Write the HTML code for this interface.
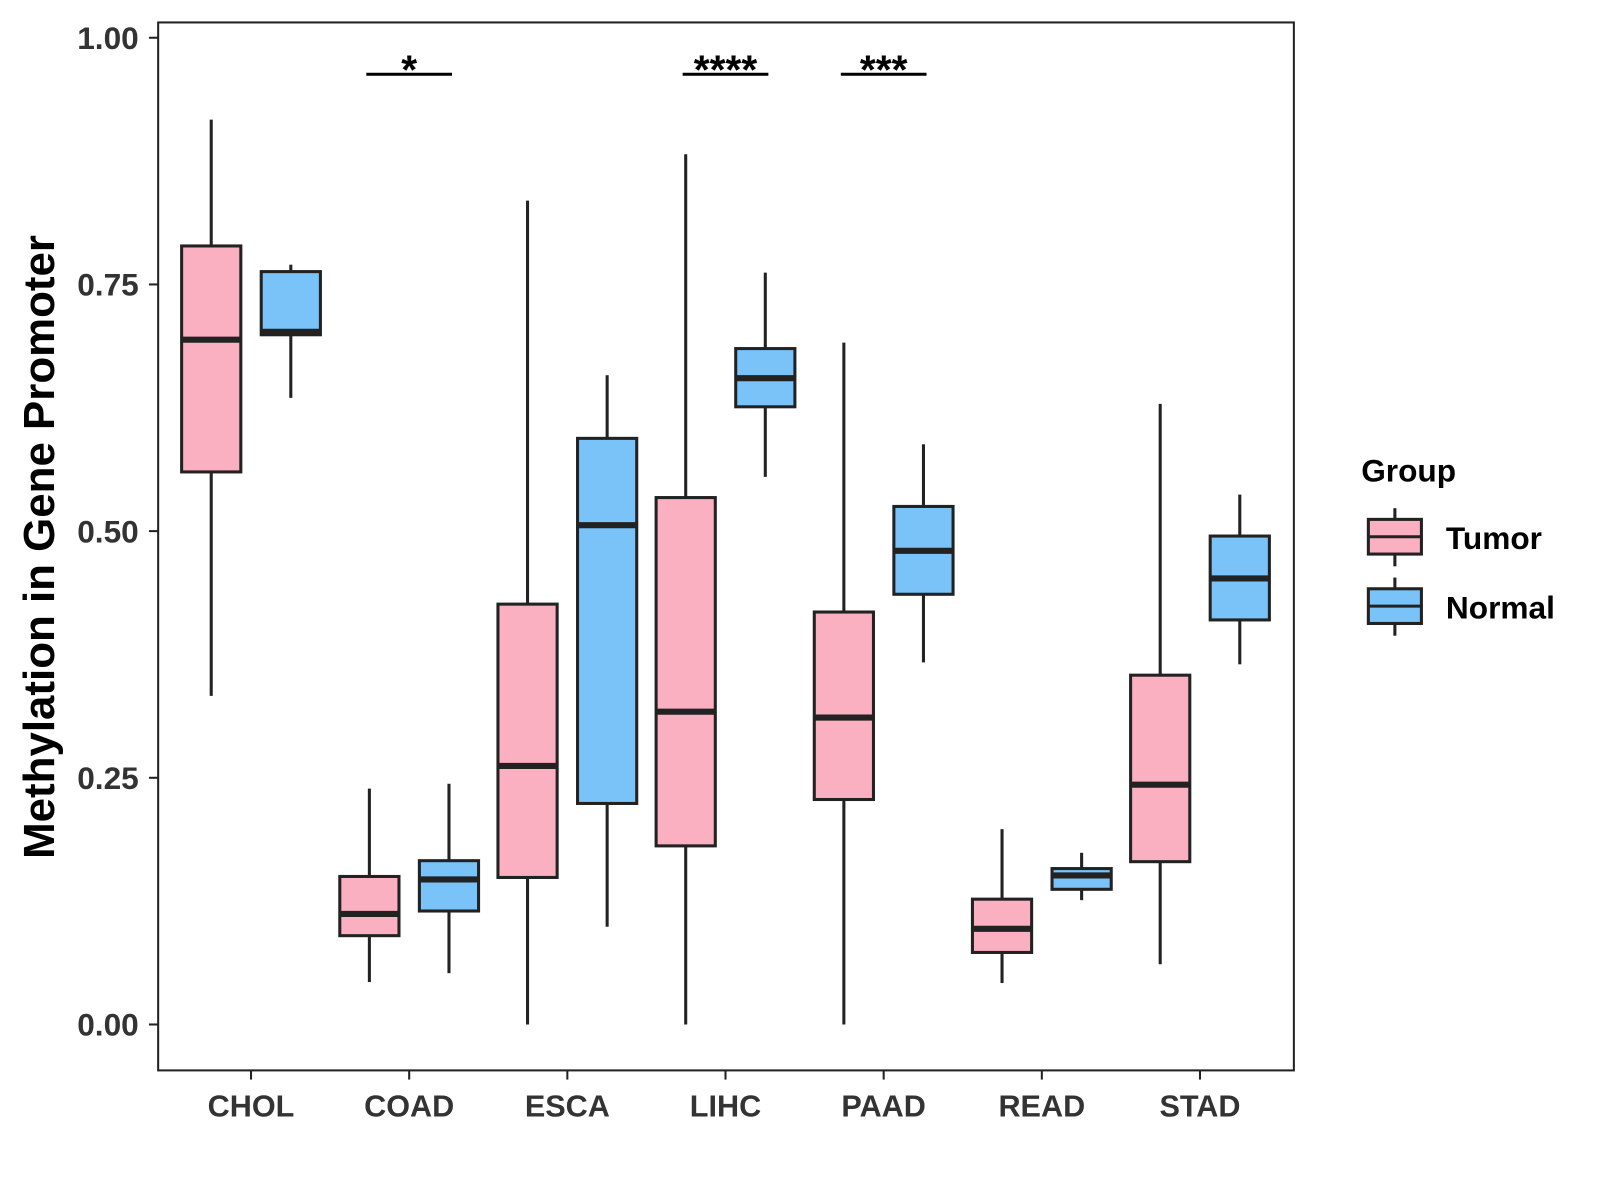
<!DOCTYPE html>
<html><head><meta charset="utf-8"><style>
body{margin:0;background:#fff;}
svg{display:block;font-family:"Liberation Sans",Arial,sans-serif;}
</style></head><body>
<svg id="chart" width="1600" height="1200" viewBox="0 0 1600 1200">
<g transform="scale(1.0204)">
<rect x="155" y="22" width="1113" height="1027" fill="#fff" stroke="#222" stroke-width="2"/>
<g id="marks"></g>
<g id="axes"></g>
<text transform="translate(53,536) rotate(-90)" text-anchor="middle" font-size="43" font-weight="bold" fill="#000">Methylation in Gene Promoter</text>
<g>
<text x="1334" y="472" font-size="31" font-weight="bold" fill="#000">Group</text>
<g>
<line x1="1367" y1="498" x2="1367" y2="555" stroke="#222" stroke-width="3"/>
<rect x="1341" y="509" width="52" height="34" fill="#FBB0C2" stroke="#222" stroke-width="3"/>
<line x1="1341" y1="526" x2="1393" y2="526" stroke="#222" stroke-width="3"/>
<text x="1417" y="538" font-size="31" font-weight="bold" fill="#000">Tumor</text></g>
<g>
<line x1="1367" y1="566" x2="1367" y2="623" stroke="#222" stroke-width="3"/>
<rect x="1341" y="577" width="52" height="34" fill="#79C3F8" stroke="#222" stroke-width="3"/>
<line x1="1341" y1="594" x2="1393" y2="594" stroke="#222" stroke-width="3"/>
<text x="1417" y="606" font-size="31" font-weight="bold" fill="#000">Normal</text></g>
</g>
</g>
</svg>
<script>
const categories=["CHOL","COAD","ESCA","LIHC","PAAD","READ","STAD"];
const tumorLow=[0.333,0.043,0.0,0.0,0.0,0.042,0.061];
const tumorQ1=[0.560,0.090,0.149,0.181,0.228,0.073,0.165];
const tumorMed=[0.694,0.112,0.262,0.317,0.311,0.097,0.243];
const tumorQ3=[0.789,0.150,0.426,0.534,0.418,0.127,0.354];
const tumorHigh=[0.917,0.239,0.835,0.882,0.691,0.198,0.629];
const normalLow=[0.635,0.052,0.099,0.555,0.367,0.126,0.365];
const normalQ1=[0.699,0.115,0.224,0.626,0.436,0.137,0.410];
const normalMed=[0.702,0.147,0.506,0.655,0.480,0.151,0.452];
const normalQ3=[0.763,0.166,0.594,0.685,0.525,0.158,0.495];
const normalHigh=[0.770,0.244,0.658,0.762,0.588,0.174,0.537];
const yTicks=[0,0.25,0.5,0.75,1.0];
const yTickLabels=["0.00","0.25","0.50","0.75","1.00"];
const sigCategories=["COAD","LIHC","PAAD"];
const sigLabels=["*","****","***"];
const sigLevel=0.963;

const NS="http://www.w3.org/2000/svg";
const y=v=>1004-v*967;
const x=i=>246+i*155;
function mk(tag,attrs,parent){const e=document.createElementNS(NS,tag);for(const k in attrs)e.setAttribute(k,attrs[k]);parent.appendChild(e);return e;}
const marks=document.getElementById('marks'),axes=document.getElementById('axes');
function box(cx,lo,q1,med,q3,hi,fill,name){
  const g=mk('g',{},marks);
  
  
  mk('line',{x1:cx,x2:cx,y1:y(hi),y2:y(q3),stroke:'#222','stroke-width':3},g);
  mk('line',{x1:cx,x2:cx,y1:y(q1),y2:y(lo),stroke:'#222','stroke-width':3},g);
  mk('rect',{x:cx-29,y:y(q3),width:58,height:y(q1)-y(q3),fill:fill,stroke:'#222','stroke-width':3},g);
  mk('line',{x1:cx-29,x2:cx+29,y1:y(med),y2:y(med),stroke:'#222','stroke-width':6},g);
}
categories.forEach((c,i)=>{
  box(x(i)-39,tumorLow[i],tumorQ1[i],tumorMed[i],tumorQ3[i],tumorHigh[i],'#FBB0C2','box-'+c.toLowerCase()+'-tumor');
  box(x(i)+39,normalLow[i],normalQ1[i],normalMed[i],normalQ3[i],normalHigh[i],'#79C3F8','box-'+c.toLowerCase()+'-normal');
  mk('line',{x1:x(i),x2:x(i),y1:1049,y2:1058,stroke:'#222','stroke-width':2},axes);
  const t=mk('text',{x:x(i),y:1094,'text-anchor':'middle','font-size':30,'font-weight':'bold',fill:'#333'},axes);
  t.textContent=c;
  
  
});
yTicks.forEach((v,i)=>{
  mk('line',{x1:146,x2:155,y1:y(v),y2:y(v),stroke:'#222','stroke-width':2},axes);
  const t=mk('text',{x:136,y:y(v)+11,'text-anchor':'end','font-size':31,'font-weight':'bold',fill:'#333'},axes);
  t.textContent=yTickLabels[i];
  
  
});
sigCategories.forEach((c,k)=>{
  const i=categories.indexOf(c);
  const g=mk('g',{},marks);
  
  
  mk('line',{x1:x(i)-42,x2:x(i)+42,y1:y(sigLevel),y2:y(sigLevel),stroke:'#000','stroke-width':3},g);
  const t=mk('text',{x:x(i),y:y(sigLevel)+9,'text-anchor':'middle','font-size':40,'font-weight':'bold',fill:'#000'},g);
  t.textContent=sigLabels[k];
});
</script>
</body></html>
